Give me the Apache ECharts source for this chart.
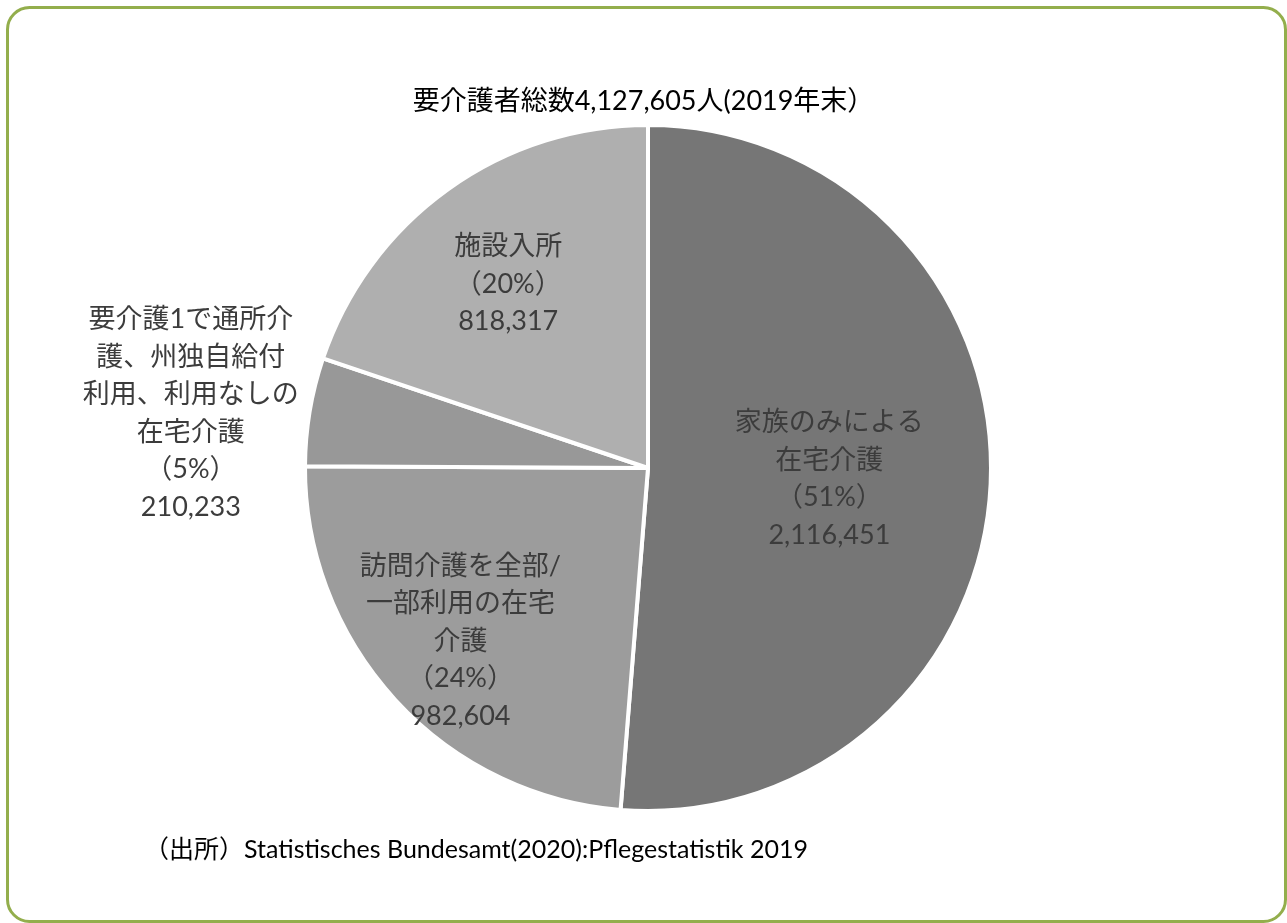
<!DOCTYPE html>
<html>
<head>
<meta charset="utf-8">
<script src="https://cdn.jsdelivr.net/npm/echarts@6/dist/echarts.min.js"></script>
<style>
  html, body { margin: 0; padding: 0; background: #ffffff; }
  #chart { width: 1287px; height: 923px; }
</style>
</head>
<body>
<div id="chart"></div>
<script>
// Care recipients in Germany by type of care, end of 2019
const categories = [
  '家族のみによる\n在宅介護',
  '訪問介護を全部/\n一部利用の在宅\n介護',
  '要介護1で通所介\n護、州独自給付\n利用、利用なしの\n在宅介護',
  '施設入所'
];
const values = [2116451, 982604, 210233, 818317];
const titleText = '要介護者総数4,127,605人(2019年末）';
const sourceText = '（出所）Statistisches Bundesamt(2020):Pflegestatistik 2019';

// Styling
const sliceColors = ['#767676', '#9c9c9c', '#989898', '#afafaf'];
const labelShift = [[7, 4], [-59, 55], [-285, -26], [-38, -42]];
const FONT = "Lato, 'Noto Sans CJK JP', sans-serif";

const chart = echarts.init(document.getElementById('chart'), null, { renderer: 'canvas' });

const pieData = categories.map((name, i) => ({
  name: name,
  value: values[i],
  itemStyle: { color: sliceColors[i] }
}));

chart.setOption({
  animation: false,
  backgroundColor: '#ffffff',
  title: [
    {
      text: titleText,
      left: 'center',
      top: 83,
      textStyle: { fontFamily: FONT, fontSize: 27, fontWeight: 'normal', color: '#000000' }
    },
    {
      text: sourceText,
      left: 139,
      top: 832,
      textStyle: { fontFamily: FONT, fontSize: 25, fontWeight: 'normal', color: '#000000' }
    }
  ],
  graphic: [
    {
      type: 'rect',
      silent: true,
      shape: { x: 7.5, y: 7.5, width: 1278, height: 914, r: 22 },
      style: { fill: 'none', stroke: '#93ae4c', lineWidth: 3 }
    }
  ],
  series: [
    {
      type: 'pie',
      center: [648, 468],
      radius: [0, 343],
      startAngle: 90,
      clockwise: true,
      avoidLabelOverlap: false,
      data: pieData,
      itemStyle: { borderColor: '#ffffff', borderWidth: 4 },
      emphasis: { disabled: true },
      label: {
        show: true,
        position: 'inside',
        fontFamily: FONT,
        fontSize: 27,
        lineHeight: 37.5,
        color: '#3c3c3c',
        align: 'center',
        formatter: p => p.name + '\n（' + Math.round(p.percent) + '%）\n' + p.value.toLocaleString('en-US')
      },
      labelLine: { show: false },
      labelLayout: p => ({ dx: labelShift[p.dataIndex][0], dy: labelShift[p.dataIndex][1] })
    }
  ]
});
</script>
</body>
</html>
